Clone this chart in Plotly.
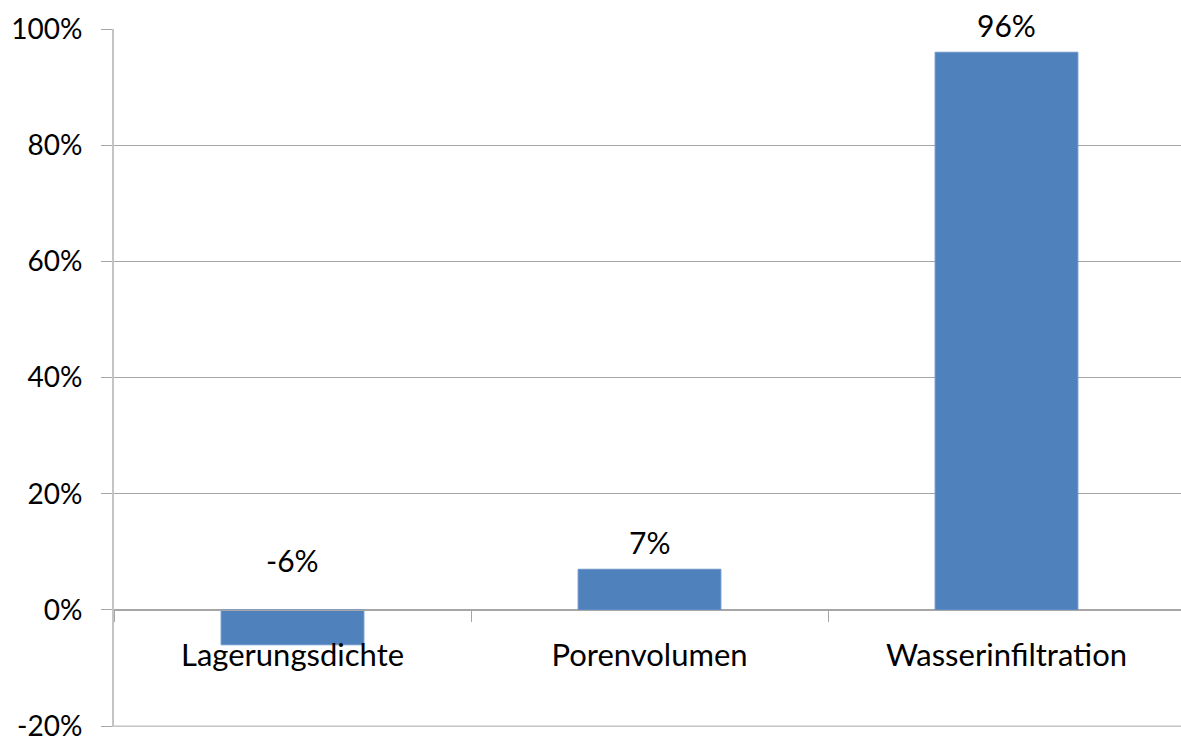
import plotly.graph_objects as go

# Change in soil properties
categories = ["Lagerungsdichte", "Porenvolumen", "Wasserinfiltration"]
values = [-6, 7, 96]
y_ticks = [-20, 0, 20, 40, 60, 80, 100]
y_tick_labels = [f"{t}%" for t in y_ticks]

FONT = "Lato"
FS = 30
BAR = "#4F81BD"
GRID = "#A6A6A6"
AXIS = "#C4C4C4"

W, H = 1181, 738
ML, MT, MB = 114, 29, 11
plot_w = W - ML
cat_w = 357.0  # pixel width of one category slot

fig = go.Figure()
fig.add_trace(go.Bar(
    x=categories,
    y=values,
    marker=dict(color=BAR, line=dict(color="#6A95C9", width=1)),
    width=0.4,
    hoverinfo="skip",
))

# value labels above each bar
for cat, v in zip(categories, values):
    fig.add_annotation(
        x=cat, y=max(v, 0), xref="x", yref="y",
        text=f"{v}%", showarrow=False,
        yanchor="middle", yshift=27 if v >= 0 else 50,
        font=dict(family=FONT, size=FS, color="#000000"),
    )

y_min, y_max = y_ticks[0], y_ticks[-1]
y_lo = y_min - 0.15  # keep the bottom gridline inside the plot
zero_pos = (0 - y_lo) / (y_max - y_lo)

# bottom gridline at the lowest tick
fig.add_shape(
    type="line", xref="paper", yref="y",
    x0=0, x1=1, y0=y_min, y1=y_min,
    line=dict(color=GRID, width=1), layer="below",
)

fig.update_layout(
    width=W, height=H,
    margin=dict(l=ML, r=0, t=MT, b=MB, pad=0),
    plot_bgcolor="white", paper_bgcolor="white",
    showlegend=False,
    font=dict(family=FONT, size=FS, color="#000000"),
    bargap=0.6,
    xaxis=dict(
        type="category",
        categoryorder="array", categoryarray=categories,
        range=[-0.5, -0.5 + plot_w / cat_w],
        tickson="boundaries",
        ticks="outside", ticklen=11, tickcolor=GRID, tickwidth=1,
        showline=True, linecolor=GRID, linewidth=1,
        showgrid=False, zeroline=False,
        anchor="free", position=zero_pos,
        ticklabelstandoff=18,
        automargin=False,
        tickfont=dict(family=FONT, size=31, color="#000000"),
        fixedrange=True,
    ),
    yaxis=dict(
        range=[y_lo, y_max],
        tickmode="array",
        tickvals=y_ticks,
        ticktext=y_tick_labels,
        ticks="outside", ticklen=11, tickcolor=GRID, tickwidth=1,
        showline=True, linecolor=AXIS, linewidth=2,
        showgrid=True, gridcolor=GRID, gridwidth=1,
        zeroline=False,
        ticklabelstandoff=13,
        ticklabeloverflow="allow",
        automargin=False,
        tickfont=dict(family=FONT, size=28, color="#000000"),
        fixedrange=True,
    ),
)

fig.write_html("out.html")
